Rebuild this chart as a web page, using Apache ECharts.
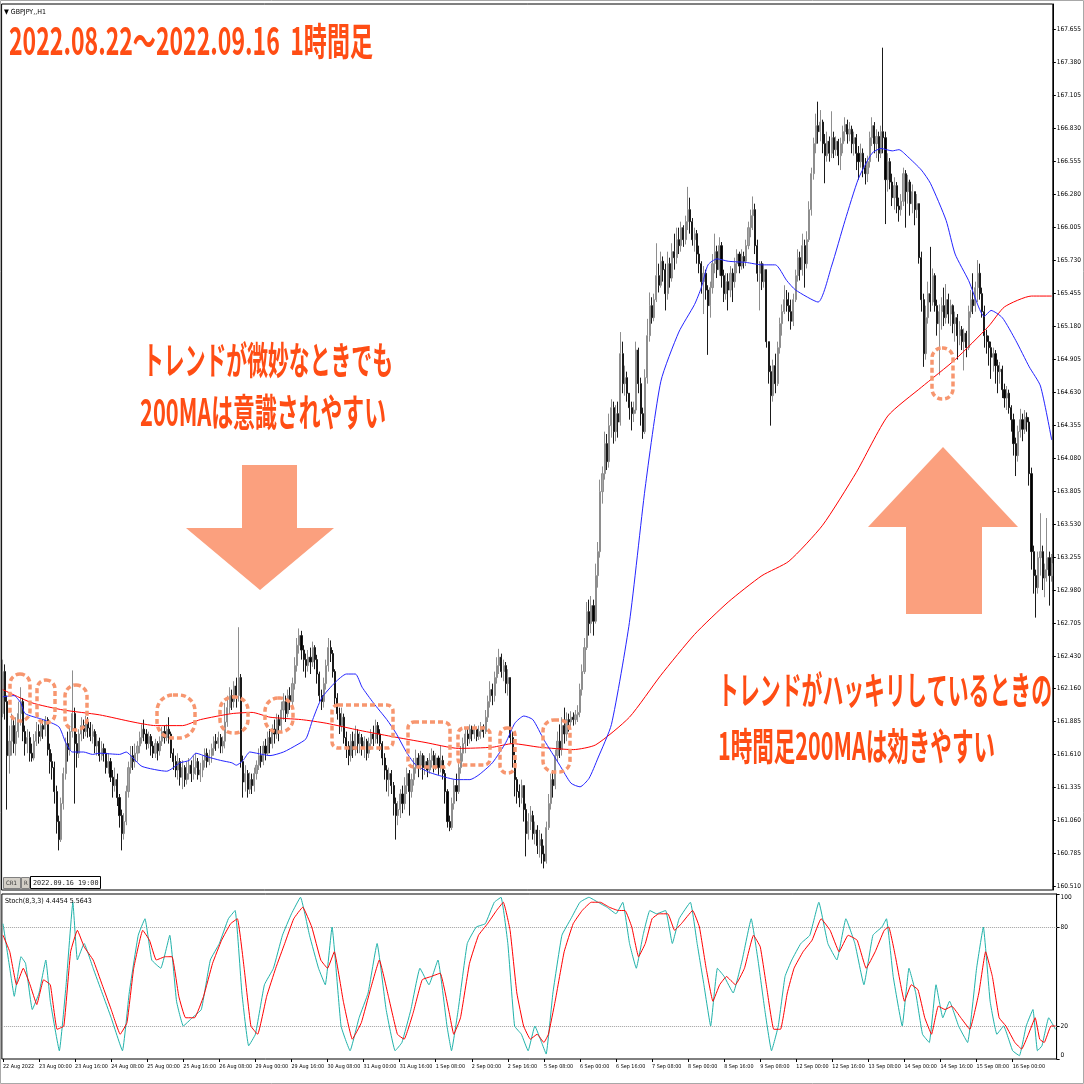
<!DOCTYPE html>
<html><head><meta charset="utf-8">
<script src="https://cdn.jsdelivr.net/npm/echarts@6/dist/echarts.min.js"></script>
<style>html,body{margin:0;padding:0;background:#fff}#c{width:1084px;height:1084px}</style>
</head><body><div id="c"></div>
<script>
// ---------- DATA ----------
const tradingDays = ['22 Aug','23 Aug','24 Aug','25 Aug','26 Aug','29 Aug','30 Aug','31 Aug','1 Sep','2 Sep',
  '5 Sep','6 Sep','7 Sep','8 Sep','9 Sep','12 Sep','13 Sep','14 Sep','15 Sep','16 Sep'];
const firstHour = 8, lastHour = 19;
const priceTickLabels = ['160.510','160.785','161.060','161.335','161.610','161.885','162.160','162.430','162.705',
  '162.980','163.255','163.530','163.805','164.080','164.355','164.630','164.905','165.180','165.455','165.730',
  '166.005','166.280','166.555','166.830','167.105','167.380','167.655'];
const stochTickLabels = ['0','20','80','100'];
const firstOpen = 161.95;
const closes = [
162.30,162.05,161.60,161.72,161.85,161.70,161.80,161.95,162.05,161.80,
161.70,161.75,161.62,161.58,161.72,161.80,161.76,161.85,161.82,161.90,
161.65,161.55,161.50,161.30,161.05,160.90,161.20,161.45,161.70,161.65,
161.80,161.95,161.70,161.62,161.78,161.85,161.80,161.88,161.83,161.76,
161.80,161.68,161.72,161.60,161.66,161.62,161.50,161.55,161.42,161.35,
161.40,161.25,161.10,160.95,161.05,161.30,161.50,161.60,161.55,161.62,
161.68,161.75,161.82,161.78,161.70,161.76,161.68,161.62,161.70,161.64,
161.72,161.80,161.75,161.82,161.78,161.62,161.55,161.48,161.55,161.42,
161.50,161.40,161.45,161.52,161.45,161.50,161.55,161.44,161.48,161.56,
161.62,161.55,161.60,161.66,161.72,161.70,161.75,161.68,161.72,161.88,
162.00,162.10,162.05,162.18,162.10,162.25,161.55,161.38,161.45,161.32,
161.40,161.35,161.45,161.52,161.60,161.55,161.68,161.62,161.75,161.70,
161.82,161.78,161.90,161.85,161.98,162.05,161.95,162.10,162.05,162.20,
162.35,162.52,162.60,162.48,162.40,162.35,162.42,162.38,162.50,162.40,
162.28,162.10,162.05,162.20,162.35,162.50,162.45,162.30,162.08,161.95,
161.85,161.92,161.75,161.68,161.60,161.72,161.65,161.78,161.70,161.75,
161.66,161.72,161.62,161.70,161.78,161.74,161.85,161.78,161.70,161.58,
161.48,161.40,161.45,161.35,161.20,161.10,161.15,161.28,161.20,161.35,
161.45,161.30,161.40,161.50,161.58,161.52,161.60,161.50,161.55,161.48,
161.56,161.60,161.52,161.58,161.50,161.56,161.45,161.30,161.05,161.00,
161.20,161.35,161.30,161.50,161.62,161.70,161.78,161.74,161.82,161.78,
161.82,161.76,161.80,161.84,161.80,161.92,162.05,162.15,162.10,162.25,
162.35,162.42,162.30,162.35,162.20,162.25,161.75,161.60,161.40,161.30,
161.25,161.35,161.15,160.95,161.05,161.10,160.95,160.98,160.85,160.90,
160.78,160.72,161.00,161.20,161.40,161.35,161.60,161.72,161.65,161.85,
161.78,161.90,161.88,161.92,161.90,161.94,161.96,162.15,162.30,162.50,
162.80,162.70,162.85,162.72,163.10,163.30,163.80,163.95,164.20,164.05,
164.35,164.50,164.30,164.45,164.38,164.95,164.70,164.75,164.62,164.50,
164.45,164.48,164.98,164.70,164.45,164.30,164.75,165.10,165.35,165.25,
165.40,165.60,165.52,165.72,165.65,165.45,165.70,165.58,165.80,165.75,
165.90,165.85,166.00,165.90,166.05,166.15,166.05,165.90,165.95,165.78,
165.70,165.55,165.62,165.48,165.35,165.50,165.70,165.80,165.65,165.85,
165.60,165.45,165.55,165.48,165.62,165.55,165.70,165.78,165.68,165.76,
165.72,165.85,166.00,166.10,166.15,165.85,165.62,165.70,165.55,165.65,
165.05,164.80,164.60,164.85,164.70,165.00,165.20,165.30,165.40,165.35,
165.30,165.22,165.40,165.60,165.75,165.65,165.85,165.70,165.90,166.15,
166.45,166.70,166.85,166.80,166.88,166.70,166.60,166.72,166.62,166.75,
166.65,166.72,166.60,166.70,166.80,166.86,166.78,166.82,166.70,166.75,
166.62,166.55,166.62,166.50,166.45,166.55,166.75,166.85,166.70,166.76,
166.62,166.80,166.75,166.40,166.55,166.38,166.25,166.35,166.18,166.15,
166.22,166.45,166.30,166.38,166.20,166.30,166.15,166.20,165.75,165.40,
164.95,165.25,165.45,165.38,165.60,165.35,165.20,165.30,165.35,165.25,
165.40,165.28,165.35,165.20,165.25,165.10,165.15,165.05,165.12,165.00,
165.30,165.40,165.35,165.50,165.62,165.45,165.30,165.10,165.05,165.00,
164.92,164.95,164.85,164.80,164.82,164.65,164.58,164.62,164.50,164.40,
164.20,164.10,164.30,164.40,164.32,164.42,164.38,163.95,163.30,163.10,
163.00,163.25,163.30,163.08,163.15,163.25,163.10,163.20];
const highs = [
162.40,162.36,162.10,161.85,161.95,161.90,161.92,162.05,162.17,162.08,
161.85,161.82,161.80,161.70,161.78,161.88,161.86,161.90,161.90,161.93,
161.92,161.70,161.62,161.55,161.35,161.10,161.25,161.50,161.75,161.80,
161.85,162.31,162.00,161.78,161.82,161.92,161.90,161.93,161.92,161.88,
161.86,161.82,161.78,161.75,161.72,161.70,161.66,161.62,161.58,161.48,
161.50,161.45,161.28,161.15,161.12,161.35,161.55,161.68,161.68,161.70,
161.72,161.80,161.86,161.90,161.82,161.80,161.78,161.72,161.74,161.72,
161.76,161.84,161.85,161.86,161.92,161.80,161.66,161.60,161.62,161.58,
161.56,161.52,161.55,161.58,161.56,161.60,161.62,161.58,161.54,161.60,
161.66,161.66,161.65,161.70,161.76,161.78,161.80,161.78,161.76,162.04,
162.10,162.17,162.15,162.22,162.25,162.67,162.28,161.60,161.52,161.48,
161.46,161.45,161.50,161.56,161.66,161.68,161.72,161.74,161.80,161.82,
161.86,161.90,161.95,161.94,162.05,162.12,162.10,162.15,162.17,162.25,
162.42,162.58,162.66,162.64,162.52,162.45,162.48,162.50,162.55,162.52,
162.44,162.30,162.15,162.25,162.40,162.58,162.56,162.48,162.32,162.12,
162.00,162.00,161.95,161.80,161.72,161.78,161.80,161.85,161.82,161.80,
161.78,161.76,161.74,161.75,161.82,161.85,161.90,161.88,161.82,161.72,
161.62,161.52,161.50,161.48,161.38,161.25,161.22,161.32,161.35,161.42,
161.50,161.48,161.45,161.58,161.65,161.62,161.64,161.62,161.60,161.58,
161.62,161.66,161.64,161.62,161.60,161.68,161.60,161.48,161.32,161.10,
161.25,161.40,161.45,161.55,161.68,161.75,161.82,161.84,161.86,161.85,
161.86,161.84,161.85,161.88,161.86,161.98,162.10,162.22,162.20,162.30,
162.42,162.49,162.45,162.40,162.38,162.32,162.25,161.80,161.65,161.42,
161.36,161.40,161.35,161.20,161.12,161.18,161.14,161.05,161.02,160.98,
160.95,160.85,161.05,161.28,161.45,161.48,161.65,161.80,161.86,161.92,
162.00,161.96,161.95,161.97,161.96,161.98,162.02,162.20,162.36,162.58,
162.88,162.90,162.93,162.90,163.20,163.38,163.90,164.01,164.30,164.28,
164.45,164.57,164.55,164.52,164.55,165.13,165.05,164.85,164.80,164.62,
164.55,164.55,165.05,165.00,164.75,164.50,164.82,165.24,165.46,165.42,
165.45,165.87,165.70,165.80,165.76,165.70,165.80,165.75,165.87,165.95,
166.00,166.00,166.05,166.02,166.10,166.34,166.25,166.08,166.00,165.98,
165.85,165.72,165.68,165.65,165.52,165.55,165.78,165.95,165.85,165.92,
165.88,165.65,165.62,165.62,165.68,165.66,165.75,165.82,165.80,165.82,
165.80,165.90,166.05,166.15,166.26,166.20,165.90,165.72,165.72,165.70,
165.65,165.05,164.85,164.90,164.95,165.05,165.25,165.36,165.52,165.48,
165.46,165.40,165.45,165.65,165.82,165.80,165.95,165.90,165.97,166.22,
166.50,166.75,166.95,167.05,166.98,166.90,166.78,166.80,166.76,166.97,
166.80,166.76,166.74,166.75,166.85,166.92,166.90,166.88,166.85,166.80,
166.78,166.68,166.70,166.66,166.58,166.60,166.80,166.92,166.88,166.82,
166.80,166.85,167.50,166.80,166.62,166.58,166.45,166.42,166.38,166.25,
166.28,166.50,166.48,166.44,166.40,166.36,166.30,166.28,166.20,165.80,
165.45,165.35,165.55,165.84,165.66,165.62,165.40,165.36,165.42,165.50,
165.53,165.45,165.40,165.36,165.30,165.28,165.22,165.18,165.16,165.14,
165.35,165.48,165.62,165.55,165.73,165.70,165.50,165.35,165.15,165.10,
165.05,165.00,164.98,164.90,164.88,164.85,164.70,164.68,164.65,164.52,
164.45,164.25,164.35,164.49,164.45,164.48,164.46,164.42,164.00,163.35,
163.15,163.30,163.62,163.35,163.20,163.58,163.30,163.28];
const lows = [
161.92,161.90,161.15,161.45,161.60,161.62,161.60,161.75,161.85,161.72,
161.60,161.62,161.55,161.55,161.56,161.68,161.70,161.72,161.74,161.76,
161.60,161.45,161.40,161.20,160.95,160.81,160.88,161.15,161.40,161.55,
161.60,161.75,161.20,161.50,161.58,161.72,161.74,161.76,161.75,161.72,
161.70,161.62,161.60,161.55,161.56,161.55,161.45,161.45,161.38,161.25,
161.30,161.18,161.00,160.81,160.90,161.02,161.25,161.45,161.48,161.50,
161.55,161.62,161.70,161.72,161.65,161.66,161.60,161.58,161.58,161.56,
161.60,161.68,161.70,161.72,161.70,161.58,161.48,161.42,161.40,161.35,
161.32,161.34,161.36,161.40,161.38,161.40,161.44,161.40,161.38,161.42,
161.50,161.50,161.52,161.54,161.60,161.64,161.66,161.62,161.62,161.66,
161.84,161.95,161.98,162.00,162.00,162.05,161.50,161.25,161.30,161.25,
161.28,161.28,161.30,161.40,161.48,161.50,161.52,161.56,161.60,161.62,
161.66,161.70,161.74,161.72,161.80,161.90,161.88,161.92,161.98,162.00,
162.15,162.30,162.45,162.40,162.30,162.25,162.30,162.28,162.34,162.32,
162.20,162.05,161.98,162.00,162.15,162.30,162.38,162.25,162.02,161.90,
161.78,161.80,161.70,161.58,161.52,161.55,161.58,161.60,161.62,161.62,
161.60,161.58,161.56,161.58,161.65,161.68,161.70,161.70,161.64,161.52,
161.40,161.30,161.26,161.28,161.10,160.90,161.02,161.08,161.12,161.15,
161.28,161.10,161.25,161.35,161.45,161.42,161.48,161.40,161.44,161.42,
161.45,161.50,161.46,161.48,161.44,161.46,161.40,161.20,161.00,160.97,
160.98,161.15,161.22,161.28,161.45,161.55,161.62,161.68,161.70,161.72,
161.74,161.72,161.73,161.74,161.75,161.78,161.88,162.00,162.02,162.05,
162.20,162.28,162.25,162.22,162.12,162.10,161.70,161.50,161.26,161.20,
161.17,161.20,161.05,160.76,160.90,160.98,160.90,160.86,160.78,160.75,
160.70,160.66,160.70,160.98,161.15,161.25,161.32,161.55,161.58,161.60,
161.70,161.72,161.80,161.84,161.85,161.86,161.88,161.92,162.10,162.28,
162.48,162.60,162.62,162.60,162.70,163.00,163.25,163.70,163.90,163.98,
164.00,164.25,164.20,164.22,164.25,164.35,164.62,164.60,164.55,164.40,
164.31,164.38,164.45,164.62,164.35,164.24,164.28,164.70,165.05,165.20,
165.22,165.38,165.46,165.50,165.55,165.31,165.40,165.50,165.55,165.65,
165.70,165.78,165.80,165.84,165.86,165.98,165.95,165.85,165.80,165.70,
165.62,165.45,165.28,165.40,164.94,165.25,165.45,165.62,165.58,165.60,
165.50,165.38,165.40,165.31,165.42,165.38,165.50,165.62,165.62,165.65,
165.66,165.68,165.82,165.92,165.98,165.78,165.55,165.31,165.48,165.50,
165.00,164.70,164.35,164.55,164.62,164.68,164.95,165.10,165.28,165.30,
165.22,165.15,165.18,165.38,165.55,165.56,165.60,165.50,165.66,165.88,
166.10,166.40,166.62,166.70,166.72,166.62,166.37,166.55,166.55,166.58,
166.58,166.60,166.52,166.48,166.62,166.72,166.70,166.72,166.62,166.60,
166.48,166.40,166.50,166.42,166.36,166.38,166.50,166.68,166.62,166.58,
166.55,166.58,166.62,166.03,166.30,166.32,166.18,166.15,166.12,166.05,
166.10,166.18,166.00,166.20,166.10,166.12,166.02,166.08,165.70,165.30,
164.84,164.90,165.20,165.30,165.35,165.30,165.10,164.77,165.15,165.18,
165.20,165.20,165.18,165.12,165.05,164.90,165.02,164.98,164.81,164.92,
164.98,165.25,165.28,165.30,165.38,165.40,165.25,165.00,164.95,164.85,
164.74,164.80,164.70,164.62,164.70,164.58,164.50,164.48,164.45,164.30,
164.10,163.93,164.05,164.25,164.22,164.28,164.30,163.85,163.15,162.95,
162.75,162.95,163.10,162.98,162.92,163.05,162.85,163.05];
// moving averages: [bar index, price]
const ma200 = [[0,162.15],[13,162.04],[27,161.98],[43,161.94],[58,161.88],[68,161.85],[80,161.85],[88,161.90],
  [102,161.95],[111,161.96],[119,161.92],[133,161.90],[144,161.87],[159,161.81],[173,161.76],[188,161.71],
  [203,161.66],[218,161.67],[227,161.70],[239,161.67],[254,161.65],[264,161.69],[279,161.92],[293,162.27],
  [308,162.61],[323,162.88],[338,163.10],[350,163.22],[365,163.52],[380,163.96],[394,164.43],[409,164.67],
  [424,164.90],[439,165.18],[446,165.34],[458,165.43],[467,165.43]];
const maFast = [[0,162.09],[5,162.10],[8,162.04],[10,161.95],[18,161.90],[25,161.84],[28,161.71],[31,161.63],
  [36,161.63],[40,161.61],[43,161.62],[52,161.61],[55,161.63],[58,161.58],[62,161.51],[73,161.47],[79,161.54],
  [83,161.56],[86,161.62],[91,161.59],[97,161.56],[102,161.54],[104,161.52],[107,161.56],[110,161.63],
  [113,161.62],[119,161.60],[125,161.63],[131,161.69],[135,161.74],[138,161.90],[142,162.08],[148,162.21],
  [153,162.28],[157,162.28],[160,162.17],[165,162.04],[171,161.90],[175,161.79],[180,161.62],[184,161.52],
  [190,161.46],[197,161.42],[202,161.40],[208,161.40],[212,161.44],[218,161.54],[224,161.71],[228,161.87],
  [232,161.93],[236,161.90],[241,161.73],[248,161.52],[253,161.37],[257,161.34],[261,161.41],[265,161.58],
  [271,161.86],[279,162.71],[286,163.83],[293,164.72],[301,165.13],[308,165.36],[311,165.50],[314,165.69],
  [318,165.74],[323,165.72],[331,165.71],[338,165.69],[344,165.69],[349,165.56],[353,165.48],[363,165.38],
  [369,165.68],[375,166.06],[381,166.41],[387,166.62],[391,166.66],[396,166.64],[399,166.65],[403,166.59],
  [409,166.48],[413,166.37],[420,166.06],[424,165.78],[430,165.56],[437,165.26],[440,165.31],[445,165.25],
  [451,165.06],[457,164.84],[462,164.68],[467,164.23]];
// stochastic: [bar index, value]
const stochMain = [[0,82],[3,55],[5,38],[8,62],[10,58],[13,30],[16,40],[19,60],[21,35],[25,5],[28,45],[31,95],
  [33,60],[36,70],[40,55],[44,40],[48,25],[53,5],[56,40],[60,75],[63,85],[66,60],[70,55],[74,75],[77,35],[80,20],
  [84,25],[88,30],[92,60],[96,70],[100,85],[103,90],[106,40],[109,8],[112,15],[116,45],[120,55],[124,75],[128,88],
  [132,98],[136,75],[140,55],[143,45],[146,80],[150,20],[154,5],[158,25],[162,40],[166,70],[170,30],[174,5],
  [177,10],[181,30],[185,55],[189,45],[193,60],[197,20],[199,5],[202,30],[206,70],[210,80],[214,82],[218,95],
  [221,98],[224,70],[227,20],[230,15],[233,5],[236,20],[239,10],[241,3],[244,40],[248,75],[252,85],[256,95],
  [260,98],[264,95],[268,92],[272,88],[275,95],[278,70],[281,55],[284,75],[287,90],[290,88],[294,90],[297,70],
  [300,85],[305,95],[308,70],[311,45],[314,20],[317,55],[320,50],[324,40],[328,60],[332,85],[335,60],[338,30],
  [341,5],[344,20],[347,50],[350,60],[354,70],[358,75],[362,95],[366,70],[370,60],[374,85],[378,70],[382,45],
  [386,75],[390,80],[392,85],[395,50],[399,20],[402,55],[405,40],[408,15],[411,10],[414,45],[417,25],[420,35],
  [424,20],[428,10],[432,55],[435,80],[438,35],[441,15],[444,20],[448,5],[451,2],[454,20],[457,30],[459,5],
  [461,8],[464,25],[467,18]];
const stochSignal = [[0,75],[3,65],[6,45],[9,55],[12,45],[15,33],[18,48],[21,45],[24,18],[27,20],[30,65],[33,78],
  [36,68],[40,60],[44,45],[48,30],[52,15],[55,22],[58,55],[62,78],[65,72],[68,60],[72,62],[75,62],[78,38],[81,25],
  [85,25],[89,38],[93,58],[97,72],[101,82],[104,85],[107,55],[110,20],[113,15],[117,38],[121,55],[125,70],[129,85],
  [133,92],[137,80],[141,60],[144,55],[147,65],[151,35],[155,12],[159,22],[163,42],[167,60],[171,38],[175,15],
  [178,12],[182,28],[186,48],[190,50],[194,52],[198,28],[200,15],[203,25],[207,58],[211,75],[215,82],[219,90],
  [222,95],[225,78],[228,40],[231,20],[234,12],[237,15],[240,10],[242,15],[245,35],[249,65],[253,82],[257,90],
  [261,95],[265,95],[269,92],[273,90],[276,90],[279,80],[282,62],[285,70],[288,85],[291,88],[295,88],[298,78],
  [301,82],[306,90],[309,80],[312,55],[315,35],[318,45],[321,50],[325,45],[329,55],[333,75],[336,68],[339,42],
  [342,18],[345,18],[348,40],[351,55],[355,65],[359,72],[363,85],[367,78],[371,65],[375,75],[379,72],[383,55],
  [387,65],[391,78],[393,80],[396,62],[400,35],[403,45],[406,42],[409,25],[412,15],[415,32],[418,30],[421,32],
  [425,25],[429,18],[433,40],[436,65],[439,50],[442,25],[445,20],[449,10],[452,6],[455,15],[458,25],[460,12],
  [462,10],[465,20],[467,20]];

// ---------- BUILD ----------
const categories = [];
tradingDays.forEach((d, k) => {
  const h0 = k === 0 ? firstHour : 0, h1 = k === tradingDays.length - 1 ? lastHour : 23;
  for (let h = h0; h <= h1; h++) categories.push(d + ' ' + String(h).padStart(2, '0') + ':00');
});
categories[0] = '22 Aug 2022';
const candles = closes.map((c, i) => {
  const o = i === 0 ? firstOpen : closes[i - 1];
  return [o, c, Math.min(lows[i], o, c), Math.max(highs[i], o, c)];
});

const ORANGE = '#FF4D14', SALMON = '#FBA07E', DOT = '#F7966F';
const AXFONT = '"Liberation Sans Narrow","DejaVu Sans Condensed","Liberation Sans",sans-serif';
const JP = '"Noto Sans CJK JP","Noto Sans CJK SC",sans-serif';
const mctx = document.createElement('canvas').getContext('2d');
function fitText(text, x, yc, w, size) {
  const font = 'bold ' + size + 'px ' + JP;
  mctx.font = font;
  const s = w / mctx.measureText(text).width;
  return {type: 'text', x: x, y: yc, scaleX: s, z: 120, silent: true,
    style: {text: text, font: font, fill: ORANGE, align: 'left', verticalAlign: 'middle',
            textAlign: 'left', textVerticalAlign: 'middle'}};
}
function dotted(x, y, w, h, r) {
  return {type: 'rect', z: 110, silent: true, shape: {x: x, y: y, width: w, height: h, r: r},
    style: {fill: 'none', stroke: DOT, lineWidth: 3.5, lineDash: [5, 3]}};
}
function smallText(t, x, y, size, fam, col) {
  return {type: 'text', x: x, y: y, z: 120, silent: true,
    style: {text: t, font: size + 'px ' + fam, fill: col || '#000', align: 'left', verticalAlign: 'middle',
            textAlign: 'left', textVerticalAlign: 'middle'}};
}

const graphics = [
  {type: 'rect', z: 130, silent: true, shape: {x: 0.5, y: 0.5, width: 1083, height: 1083},
   style: {fill: 'none', stroke: '#a8a8a8', lineWidth: 1}},
  fitText('2022.08.22～2022.09.16  1時間足', 9, 41, 364, 38),
  fitText('トレンドが微妙なときでも', 143, 360, 250, 38),
  fitText('200MAは意識されやすい', 140, 412, 246, 38),
  fitText('トレンドがハッキリしているときの', 718, 690, 334, 38),
  fitText('1時間足200MAは効きやすい', 718, 746, 277, 38),
  {type: 'polygon', z: 105, silent: true, shape: {points: [[242,465],[297,465],[297,528],[334,528],[260,590],[186,528],[242,528]]},
   style: {fill: SALMON}},
  {type: 'polygon', z: 105, silent: true, shape: {points: [[943,447],[1018,527],[982,527],[982,614],[906,614],[906,527],[868,527]]},
   style: {fill: SALMON}},
  dotted(10, 674, 20, 47, 10), dotted(37, 680, 18, 43, 9), dotted(65, 685, 22, 45, 11),
  dotted(157, 695, 38, 43, 16), dotted(220, 697, 28, 36, 13), dotted(265, 698, 28, 34, 13),
  dotted(332, 705, 61, 43, 6), dotted(408, 722, 42, 45, 6), dotted(458, 728, 32, 37, 6),
  dotted(500, 728, 15, 45, 7), dotted(543, 720, 27, 52, 11), dotted(932, 348, 21, 51, 10),
  smallText('▼ GBPJPY,,H1', 4, 12, 7, AXFONT),
  smallText('Stoch(8,3,3) 4.4454 5.5643', 5, 901, 7, AXFONT),
  {type: 'rect', z: 120, silent: true, shape: {x: 3.5, y: 877.5, width: 17, height: 11},
   style: {fill: '#d4d0c8', stroke: '#808080', lineWidth: 1}},
  smallText('CR1', 6, 883, 6, AXFONT, '#333'),
  {type: 'rect', z: 120, silent: true, shape: {x: 21.5, y: 877.5, width: 8, height: 11},
   style: {fill: '#d4d0c8', stroke: '#808080', lineWidth: 1}},
  smallText('R', 24, 883, 6, AXFONT, '#333'),
  {type: 'rect', z: 120, silent: true, shape: {x: 30.5, y: 876.5, width: 70, height: 12},
   style: {fill: '#fff', stroke: '#000', lineWidth: 1}},
  smallText('2022.09.16 19:00', 33, 883, 6.8, '"DejaVu Sans Mono",monospace', '#222')
];

const chart = echarts.init(document.getElementById('c'), null, {renderer: 'canvas'});
const labelEvery = (idx) => idx % 16 === 0;
chart.setOption({
  animation: false,
  backgroundColor: '#fff',
  grid: [
    {left: 1.6, top: 4, width: 1055, height: 886, show: true, borderColor: '#000', borderWidth: 1, backgroundColor: '#fff'},
    {left: 1.6, top: 894, width: 1055, height: 165, show: true, borderColor: '#000', borderWidth: 1, backgroundColor: '#fff'}
  ],
  xAxis: [
    {gridIndex: 0, type: 'category', data: categories, boundaryGap: true, show: false},
    {gridIndex: 1, type: 'category', data: categories, boundaryGap: true,
     axisLine: {show: false},
     axisTick: {show: true, interval: labelEvery, alignWithLabel: true, length: 3, lineStyle: {color: '#000'}},
     axisLabel: {interval: labelEvery, align: 'left', fontSize: 5.4, fontFamily: AXFONT, color: '#000', margin: 5,
                 showMinLabel: true, showMaxLabel: false, hideOverlap: false}}
  ],
  yAxis: [
    {gridIndex: 0, type: 'value', position: 'right', min: 160.48, max: 167.864,
     splitLine: {show: false},
     axisLine: {show: true, lineStyle: {color: '#000'}},
     axisTick: {show: true, length: 3, customValues: priceTickLabels.map(Number), lineStyle: {color: '#000'}},
     axisLabel: {customValues: priceTickLabels.map(Number), formatter: v => v.toFixed(3),
                 fontSize: 6.5, fontFamily: AXFONT, color: '#000', margin: 4}},
    {gridIndex: 1, type: 'value', position: 'right', min: 0, max: 100,
     splitLine: {show: false},
     axisLine: {show: true, lineStyle: {color: '#000'}},
     axisTick: {show: true, length: 3, customValues: stochTickLabels.map(Number), lineStyle: {color: '#000'}},
     axisLabel: {customValues: stochTickLabels.map(Number), fontSize: 6.5, fontFamily: AXFONT, color: '#000', margin: 4,
                 verticalAlignMinLabel: 'bottom', verticalAlignMaxLabel: 'top'}}
  ],
  series: [
    {type: 'candlestick', xAxisIndex: 0, yAxisIndex: 0, data: candles, barWidth: 1.6,
     itemStyle: {color: '#a6a6a6', color0: '#000', borderColor: '#8e8e8e', borderColor0: '#1a1a1a', borderWidth: 1}},
    {type: 'line', xAxisIndex: 0, yAxisIndex: 0, data: ma200, showSymbol: false, smooth: 0.2,
     lineStyle: {color: '#ff0000', width: 1}, z: 5},
    {type: 'line', xAxisIndex: 0, yAxisIndex: 0, data: maFast, showSymbol: false, smooth: 0.2,
     lineStyle: {color: '#2424ff', width: 1}, z: 5},
    {type: 'line', xAxisIndex: 1, yAxisIndex: 1, data: stochMain, showSymbol: false, smooth: 0.1,
     lineStyle: {color: '#20b2aa', width: 1}, z: 5,
     markLine: {silent: true, symbol: 'none', label: {show: false}, animation: false,
                lineStyle: {color: '#a0a0a0', type: 'dotted', width: 1},
                data: [{yAxis: 80}, {yAxis: 20}]}},
    {type: 'line', xAxisIndex: 1, yAxisIndex: 1, data: stochSignal, showSymbol: false, smooth: 0.1,
     lineStyle: {color: '#ff0000', width: 1}, z: 6}
  ],
  graphic: graphics
});
</script></body></html>
